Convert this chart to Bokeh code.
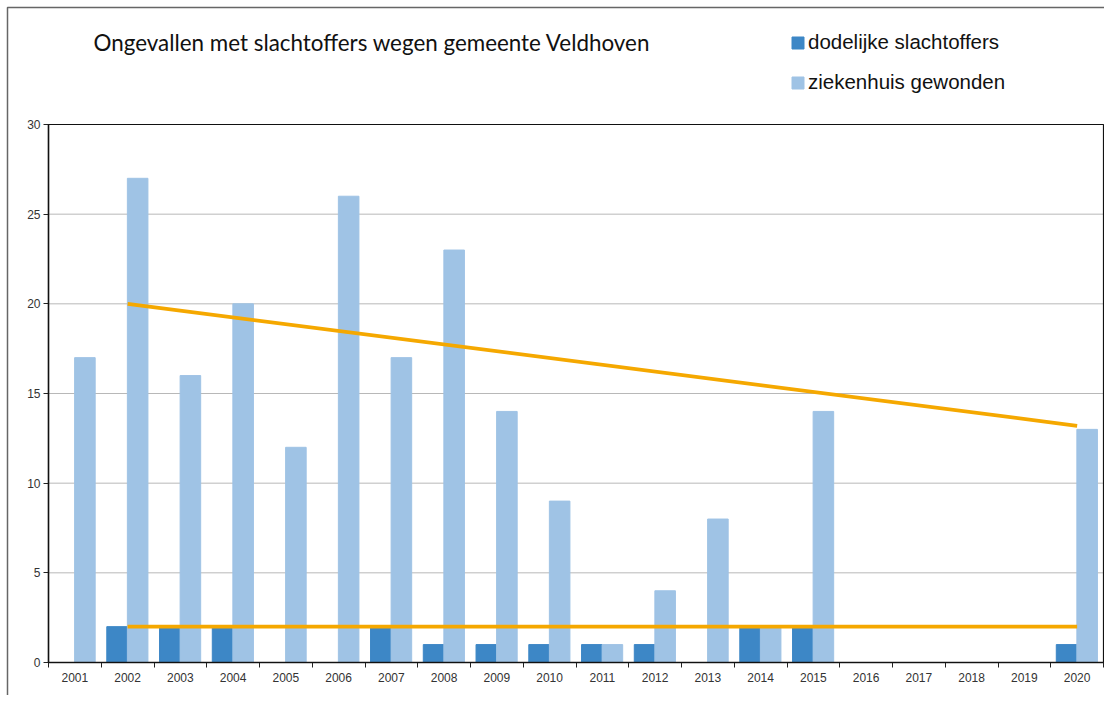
from bokeh.plotting import figure
from bokeh.models import ColumnDataSource, FixedTicker, Legend, LegendItem, Label, BoxAnnotation
from bokeh.transform import dodge
from bokeh.embed import file_html
from bokeh.resources import INLINE

years = list(range(2001, 2021))
dodelijke = [0, 2, 2, 2, 0, 0, 2, 1, 1, 1, 1, 1, 0, 2, 2, 0, 0, 0, 0, 1]
ziekenhuis = [17, 27, 16, 20, 12, 26, 17, 23, 14, 9, 1, 4, 8, 2, 14, 0, 0, 0, 0, 13]
trend_years = [2002, 2020]
trend_ziekenhuis = [20.0, 13.2]
trend_dodelijke = [2.0, 2.0]
y_ticks = [0, 5, 10, 15, 20, 25, 30]
title_text = "Ongevallen met slachtoffers wegen gemeente Veldhoven"
series_names = ["dodelijke slachtoffers", "ziekenhuis gewonden"]

DARK = "#3d87c6"
LIGHT = "#9fc3e5"
ORANGE = "#f5a800"

# layout (pixels): the frame covers the whole canvas, the plot box sits inside it
W, H = 1104, 695
PL, PR, PT, PB = 48, 1103, 124, 662      # plot box edges
X0, X1 = years[0] - 0.5, years[-1] + 0.5
Y0, Y1 = y_ticks[0], y_ticks[-1]
sx = (PR - PL) / (X1 - X0)
sy = (PB - PT) / (Y1 - Y0)
def xd(px): return X0 + (px - PL) / sx
def yd(py): return Y0 + (PB - py) / sy

src = ColumnDataSource(dict(year=years, dod=dodelijke, zie=ziekenhuis))

p = figure(width=W, height=H, output_backend="svg", toolbar_location=None,
           x_range=(xd(0), xd(W)), y_range=(yd(H), yd(0)),
           min_border_left=0, min_border_right=0, min_border_top=0, min_border_bottom=0)
p.outline_line_color = None
p.background_fill_color = "white"
p.border_fill_color = "white"
p.xgrid.grid_line_color = None
p.ygrid.grid_line_color = None

# outer frame (top and left edges visible)
p.add_layout(BoxAnnotation(left=xd(7), right=xd(W + 20), top=yd(7), bottom=yd(H + 20),
                           fill_alpha=0, line_color="#666666", line_alpha=1, line_width=1.5,
                           level="underlay"))

# horizontal grid lines inside the plot box
grid_ticks = y_ticks[1:-1]
p.segment(x0=[X0] * len(grid_ticks), x1=[X1] * len(grid_ticks), y0=grid_ticks, y1=grid_ticks,
          line_color="#b8b8b8", line_width=1, level="underlay")

r_dod = p.vbar(x=dodge("year", -0.2, range=p.x_range), top="dod", width=0.39, source=src,
               fill_color=DARK, line_color=DARK)
r_zie = p.vbar(x=dodge("year", 0.19, range=p.x_range), top="zie", width=0.39, source=src,
               fill_color=LIGHT, line_color=LIGHT)

p.line(trend_years, trend_ziekenhuis, line_color=ORANGE, line_width=3.8)
p.line(trend_years, trend_dodelijke, line_color=ORANGE, line_width=3.8)

# plot box border
p.add_layout(BoxAnnotation(left=X0, right=X1, bottom=Y0, top=Y1, fill_alpha=0,
                           line_color="#111111", line_alpha=1, line_width=1.2))

# axes placed at the plot box edges
p.xaxis.fixed_location = Y0
p.xaxis.bounds = (X0, X1)
p.xaxis.ticker = FixedTicker(ticks=years, minor_ticks=[y - 0.5 for y in years] + [X1])
p.xaxis.major_tick_line_color = None
p.xaxis.major_tick_out = 5
p.xaxis.minor_tick_out = 5
p.xaxis.minor_tick_in = 0
p.xaxis.minor_tick_line_color = "#222"
p.xaxis.major_label_standoff = 5
p.xaxis.axis_line_color = "#222"
p.xaxis.axis_line_width = 1.5

p.yaxis.fixed_location = X0
p.yaxis.bounds = (Y0, Y1)
p.yaxis.ticker = FixedTicker(ticks=y_ticks)
p.yaxis.minor_tick_line_color = None
p.yaxis.major_tick_out = 5
p.yaxis.major_tick_in = 0
p.yaxis.major_tick_line_color = "#222"
p.yaxis.major_label_standoff = 3
p.yaxis.axis_line_color = "#222"
p.yaxis.axis_line_width = 1.5

for ax in (p.xaxis, p.yaxis):
    ax.major_label_text_font = "Liberation Sans"
    ax.major_label_text_font_size = "12px"
    ax.major_label_text_color = "#333333"

# title
p.add_layout(Label(x=93, y=H - 42, x_units="screen", y_units="screen", text=title_text,
                   text_font="Lato", text_font_size="22.4px", text_color="#111111",
                   text_baseline="middle", text_align="left"))

legend = Legend(items=[LegendItem(label=series_names[0], renderers=[r_dod]),
                       LegendItem(label=series_names[1], renderers=[r_zie])],
                location=(790, H - 94), orientation="vertical",
                glyph_width=15, glyph_height=15, label_standoff=3,
                label_text_font="Liberation Sans", label_text_font_size="20.5px",
                label_text_color="#111111", label_height=21, spacing=16,
                padding=0, margin=0, border_line_color=None, background_fill_alpha=0)
p.add_layout(legend)

open("out.html", "w").write(file_html(p, INLINE))
